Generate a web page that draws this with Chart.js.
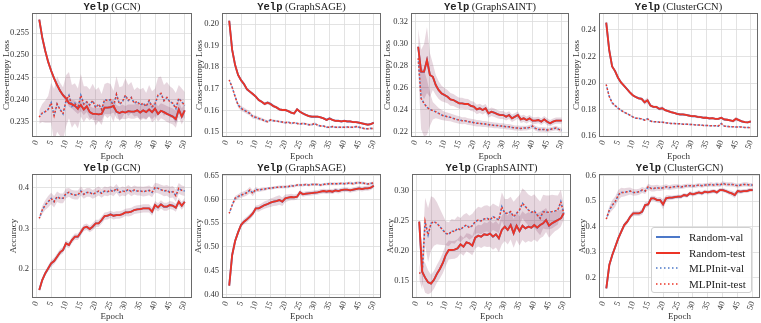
<!DOCTYPE html>
<html>
<head>
<meta charset="utf-8">
<script src="https://cdn.jsdelivr.net/npm/chart.js@4.4.1/dist/chart.umd.min.js"></script>
<style>
  body { margin: 0; background: #fff; }
  #fig { position: relative; width: 761px; height: 323px; overflow: hidden; background: #fff; }
  #fig canvas { position: absolute; }
  #legend {
    position: absolute; left: 651px; top: 227px; width: 101px; height: 66px;
    box-sizing: border-box; padding: 1px 0 0 4px;
    background: rgba(255,255,255,.85); border: 1px solid #d0d0d0; border-radius: 3px;
    font: 11px "Liberation Serif", serif; color: #222;
  }
  #legend .row { height: 15.8px; display: flex; align-items: center; white-space: nowrap; }
  #legend svg { width: 24px; height: 4px; margin-right: 9px; }
</style>
</head>
<body>
<div id="fig">
  <div id="legend">
    <div class="row"><svg><line x1="0" y1="2" x2="24" y2="2" stroke="#4c78c8" stroke-width="2"/></svg>Random-val</div>
    <div class="row"><svg><line x1="0" y1="2" x2="24" y2="2" stroke="#ec3426" stroke-width="2"/></svg>Random-test</div>
    <div class="row"><svg><line x1="0" y1="2" x2="24" y2="2" stroke="#4c78c8" stroke-width="1.5" stroke-dasharray="1.5 2.5"/></svg>MLPInit-val</div>
    <div class="row"><svg><line x1="0" y1="2" x2="24" y2="2" stroke="#ec3426" stroke-width="1.5" stroke-dasharray="1.5 2.5"/></svg>MLPInit-test</div>
  </div>
</div>
<script>
const epochs = Array.from({ length: 50 }, (_, i) => i + 1);
const xTicks = [0, 5, 10, 15, 20, 25, 30, 35, 40, 45, 50];

// ---- loss, GCN
const gcnLossRandom = [.2580,.2540,.2510,.2485,.2465,.2448,.2433,.2420,.2410,.2403,.2392,.2390,.2386,.2380,.2388,.2378,.2385,.2372,.2368,.2368,.2367,.2368,.2382,.2382,.2383,.2386,.2373,.2370,.2373,.2371,.2374,.2373,.2373,.2376,.2371,.2376,.2372,.2378,.2372,.2380,.2368,.2375,.2372,.2368,.2365,.2362,.2356,.2378,.2362,.2376];
const gcnLossMlp = [.2361,.2370,.2373,.2378,.2393,.2364,.2390,.2378,.2368,.2397,.2410,.2385,.2392,.2380,.2410,.2390,.2395,.2388,.2398,.2382,.2390,.2378,.2400,.2398,.2400,.2385,.2412,.2390,.2395,.2410,.2398,.2405,.2392,.2396,.2388,.2392,.2385,.2398,.2384,.2390,.2410,.2414,.2398,.2405,.2395,.2392,.2380,.2403,.2395,.2387];
const gcnLossRandomStd = [.0002,.0002,.0002,.0003,.0003,.0003,.0003,.0004,.0004,.0005,.0008,.001,.0012,.0012,.0014,.0013,.0013,.0014,.0014,.0014,.0015,.0015,.0014,.0015,.0015,.0015,.0015,.0015,.0016,.0015,.0015,.0016,.0016,.0016,.0015,.0016,.0016,.0016,.0016,.0017,.0017,.0017,.0017,.0018,.0018,.0018,.0019,.0018,.0018,.0017];
const gcnLossMlpStd = [.0015,.002,.0025,.003,.0045,.006,.0062,.006,.006,.0058,.0052,.0048,.0045,.0045,.0048,.004,.0035,.0035,.0038,.004,.0038,.0035,.0035,.004,.0035,.0035,.004,.0038,.0035,.0038,.0035,.0035,.003,.0032,.0035,.0035,.003,.0035,.0035,.0035,.004,.0038,.0035,.0035,.0035,.0033,.0035,.003,.003,.003];
const gcnLossTicks = ["0.235", "0.240", "0.245", "0.250", "0.255"];

// ---- loss, GraphSAGE
const sageLossRandom = [.2015,.188,.181,.1764,.174,.1722,.1698,.1687,.1676,.1664,.1648,.164,.163,.1636,.163,.162,.1614,.1605,.1602,.1602,.1597,.159,.1586,.1605,.1594,.1586,.1579,.1574,.1571,.1571,.1571,.1568,.1563,.1556,.1563,.1556,.1552,.1552,.1549,.1552,.1549,.1549,.1546,.1546,.1543,.154,.1537,.1534,.1537,.1543];
const sageLossMlp = [.1741,.1707,.1664,.1625,.161,.1602,.1594,.1586,.1571,.1568,.1563,.1559,.1552,.1548,.1556,.1552,.1551,.1548,.1546,.1543,.1546,.154,.1543,.154,.1537,.154,.1537,.1534,.1534,.154,.1531,.1528,.1528,.1522,.1522,.1525,.1522,.1522,.1522,.1522,.1523,.1522,.1522,.1525,.1522,.1519,.1515,.1515,.1517,.1515];
const sageLossRandomStd = [.0009,.0009,.0008,.0008,.0008,.0008,.0007,.0007,.0007,.0007,.0007,.0007,.0007,.0008,.0008,.0007,.0006,.0006,.0006,.0006,.0006,.0006,.0006,.0007,.0006,.0006,.0005,.0005,.0005,.0005,.0005,.0005,.0005,.0005,.0005,.0005,.0005,.0005,.0005,.0005,.0005,.0005,.0005,.0005,.0005,.0005,.0005,.0005,.0005,.0005];
const sageLossMlpStd = [.0006,.0008,.001,.0011,.0011,.0011,.001,.001,.0009,.0008,.0008,.0007,.0007,.0006,.0006,.0006,.0005,.0005,.0005,.0005,.0005,.0005,.0005,.0005,.0005,.0005,.0005,.0005,.0005,.0005,.0005,.0005,.0005,.0005,.0005,.0005,.0005,.0005,.0005,.0005,.0005,.0005,.0005,.0005,.0005,.0005,.0005,.0005,.0005,.0005];
const sageLossTicks = ["0.15", "0.16", "0.17", "0.18", "0.19", "0.20"];

// ---- loss, GraphSAINT
const saintLossRandom = [.2973,.2747,.2747,.2853,.2717,.2701,.2626,.258,.255,.2535,.252,.2496,.249,.2475,.246,.246,.2454,.2454,.2436,.243,.2405,.2415,.24,.2415,.2369,.2384,.2375,.2363,.2354,.2354,.2339,.2354,.2324,.2339,.2354,.2315,.2324,.2309,.2324,.2303,.2303,.2309,.2294,.2315,.2294,.2279,.2294,.2303,.2303,.2303];
const saintLossMlp = [.2868,.2505,.246,.2424,.2405,.2393,.2384,.2369,.2354,.2345,.2339,.2333,.2324,.2315,.2309,.2303,.2303,.2294,.2291,.2285,.2279,.2279,.2273,.2273,.2267,.2264,.226,.226,.2254,.2254,.2248,.2248,.2242,.2236,.2236,.2233,.2236,.2236,.2242,.2254,.2233,.2224,.2224,.2224,.2218,.2224,.223,.2236,.2224,.2218];
const saintLossRandomStd = [.016,.02,.025,.03,.02,.012,.009,.008,.007,.0065,.006,.0058,.0055,.0052,.005,.005,.0048,.0046,.0045,.0044,.0043,.0042,.0041,.004,.004,.0039,.0038,.0037,.0036,.0036,.0035,.0035,.0034,.0034,.0033,.0033,.0032,.0032,.0031,.0031,.003,.003,.003,.003,.003,.0029,.0029,.0029,.0028,.0028];
const saintLossMlpStd = [.012,.028,.03,.025,.015,.008,.006,.005,.0045,.004,.0038,.0036,.0035,.0034,.0033,.0032,.0031,.003,.003,.003,.0029,.0028,.0028,.0027,.0027,.0026,.0026,.0025,.0025,.0025,.0024,.0024,.0024,.0023,.0023,.0023,.0022,.0022,.0022,.0022,.0022,.0021,.0021,.0021,.0021,.002,.002,.002,.002,.002];
const saintLossTicks = ["0.22", "0.24", "0.26", "0.28", "0.30", "0.32"];

// ---- loss, ClusterGCN
const clusterLossRandom = [.2455,.225,.2125,.209,.204,.2005,.198,.1955,.193,.1908,.1895,.1885,.188,.1855,.187,.183,.182,.182,.1805,.181,.1795,.1788,.178,.1775,.1768,.1763,.1763,.176,.1755,.175,.175,.1745,.1743,.1738,.1738,.1733,.1735,.173,.173,.1738,.1725,.1723,.1718,.1713,.173,.172,.171,.1705,.1703,.171];
const clusterLossMlp = [.1988,.19,.185,.183,.181,.1795,.178,.177,.1758,.1745,.1735,.1733,.173,.172,.173,.1713,.1708,.1708,.1705,.1705,.17,.1698,.1695,.1695,.1693,.1693,.169,.169,.1688,.1688,.1685,.1683,.1683,.168,.168,.1678,.1678,.1678,.1675,.1695,.1675,.1673,.167,.167,.1668,.167,.1668,.1665,.1665,.1663];
const clusterLossRandomStd = [.0015,.0012,.001,.001,.001,.0009,.0009,.0009,.0009,.0009,.0009,.001,.0012,.0018,.002,.0012,.001,.001,.0012,.0015,.001,.0009,.0009,.0009,.0008,.0008,.0008,.0008,.0008,.0008,.0009,.001,.0009,.0008,.0008,.0008,.0008,.0008,.0009,.001,.0009,.0008,.0009,.0012,.0016,.001,.0008,.0008,.0008,.0008];
const clusterLossMlpStd = [.001,.0009,.0009,.0008,.0008,.0008,.0008,.0007,.0007,.0007,.0007,.0007,.0007,.0007,.0008,.0007,.0006,.0006,.0006,.0006,.0006,.0006,.0006,.0006,.0006,.0006,.0006,.0006,.0006,.0006,.0006,.0006,.0006,.0006,.0006,.0006,.0006,.0006,.0006,.0008,.0006,.0006,.0006,.0006,.0006,.0006,.0006,.0006,.0006,.0006];
const clusterLossTicks = ["0.16", "0.18", "0.20", "0.22", "0.24"];

// ---- accuracy, GCN
const gcnAccRandom = [.1484,.173,.1893,.2016,.2139,.2197,.2303,.241,.2467,.2631,.259,.2713,.2795,.2795,.2902,.3016,.3041,.2984,.3041,.3123,.3123,.3205,.3303,.3311,.3344,.3311,.3328,.3328,.3352,.3393,.3393,.341,.3451,.3467,.3475,.3492,.3492,.3492,.341,.3574,.3516,.359,.3533,.3533,.3574,.3557,.3508,.3656,.3557,.3656];
const gcnAccMlp = [.3246,.3451,.3574,.3656,.3738,.3656,.3779,.3738,.3738,.3861,.3885,.3836,.382,.382,.3918,.3836,.3885,.3885,.3836,.3877,.3918,.3861,.3918,.3902,.3934,.3902,.3984,.3885,.3918,.3902,.3959,.3902,.3943,.3918,.3918,.3902,.3918,.3934,.3885,.4,.3984,.3951,.3918,.3934,.3885,.3902,.3803,.3984,.3934,.3918];
const gcnAccRandomStd = [.004,.005,.006,.007,.008,.008,.008,.008,.008,.008,.008,.008,.008,.008,.008,.008,.008,.008,.009,.009,.009,.009,.009,.009,.009,.009,.009,.009,.009,.009,.01,.01,.01,.01,.01,.01,.01,.01,.01,.01,.01,.01,.01,.01,.01,.01,.01,.01,.01,.01];
const gcnAccMlpStd = [.005,.01,.012,.014,.014,.014,.013,.012,.012,.012,.011,.011,.011,.011,.011,.011,.011,.011,.011,.011,.011,.011,.011,.011,.011,.011,.011,.011,.011,.011,.011,.011,.011,.011,.011,.012,.012,.012,.012,.012,.012,.012,.013,.013,.014,.014,.015,.013,.012,.012];
const gcnAccTicks = ["0.2", "0.3", "0.4"];

// ---- accuracy, GraphSAGE
const sageAccRandom = [.4183,.4829,.5124,.5306,.5461,.5531,.558,.5636,.5706,.5812,.5812,.5847,.5882,.5903,.5931,.5952,.5966,.5987,.5952,.6022,.6037,.6051,.6044,.6058,.6149,.6107,.6121,.6128,.6135,.6142,.6149,.6163,.6177,.6163,.6177,.6163,.6191,.6177,.6198,.6205,.6205,.6191,.6205,.6219,.6233,.6219,.6233,.6233,.6247,.6289];
const sageAccMlp = [.5706,.5882,.6022,.6058,.6093,.6114,.6142,.6198,.6128,.6212,.6198,.6212,.6219,.6233,.6233,.6247,.6254,.6261,.6261,.6268,.6268,.6289,.6282,.6303,.6303,.6303,.6317,.6303,.6317,.6317,.6317,.6303,.6317,.6324,.6331,.6331,.6331,.6331,.6338,.6331,.6338,.6346,.6331,.6346,.6353,.6346,.6338,.6324,.6338,.6346];
const sageAccRandomStd = [.004,.005,.005,.005,.005,.006,.006,.006,.006,.006,.007,.007,.008,.008,.009,.009,.01,.01,.009,.008,.007,.007,.006,.006,.005,.005,.005,.005,.005,.005,.005,.005,.005,.005,.005,.005,.005,.005,.005,.005,.005,.005,.005,.005,.005,.005,.005,.005,.005,.005];
const sageAccMlpStd = [.003,.004,.005,.005,.006,.006,.006,.007,.006,.005,.004,.004,.004,.003,.003,.003,.003,.003,.003,.003,.003,.003,.003,.003,.003,.003,.003,.003,.003,.003,.003,.003,.003,.003,.003,.003,.003,.003,.003,.003,.003,.003,.003,.003,.003,.003,.003,.003,.003,.003];
const sageAccTicks = ["0.40", "0.45", "0.50", "0.55", "0.60", "0.65"];

// ---- accuracy, GraphSAINT
const saintAccRandom = [.2489,.1656,.1556,.1478,.1456,.152,.162,.17,.18,.1933,.2017,.2017,.2022,.2044,.2111,.2072,.2144,.2128,.2089,.2222,.2256,.2239,.2278,.2267,.2289,.2239,.2278,.2211,.235,.2406,.235,.2433,.2294,.2422,.2333,.2422,.2378,.2406,.2389,.2433,.2389,.2433,.2461,.2517,.2422,.2461,.2489,.2517,.2544,.2628];
const saintAccMlp = [.1628,.1656,.2489,.2267,.2461,.2489,.2461,.2406,.235,.2294,.2278,.2333,.2322,.2378,.235,.2406,.2433,.2389,.2422,.2489,.2517,.25,.2533,.2544,.2517,.2572,.2544,.2517,.2739,.2628,.2628,.2656,.2572,.2628,.2683,.2794,.2739,.2683,.2644,.2667,.26,.2544,.2656,.2644,.2644,.2656,.2667,.2683,.2822,.2628];
const saintAccRandomStd = [.005,.02,.025,.02,.015,.015,.015,.016,.017,.018,.016,.015,.015,.015,.015,.015,.015,.016,.016,.018,.018,.019,.02,.02,.022,.022,.022,.023,.024,.024,.024,.024,.024,.024,.024,.024,.024,.024,.024,.024,.024,.022,.022,.02,.02,.018,.016,.016,.014,.01];
const saintAccMlpStd = [.01,.03,.04,.045,.045,.04,.035,.03,.025,.02,.02,.02,.02,.02,.02,.02,.02,.02,.02,.02,.022,.022,.022,.022,.022,.022,.022,.022,.024,.024,.024,.025,.025,.025,.025,.025,.026,.026,.027,.028,.028,.028,.028,.028,.028,.028,.026,.024,.02,.015];
const saintAccTicks = ["0.15", "0.20", "0.25", "0.30"];

// ---- accuracy, ClusterGCN
const clusterAccRandom = [.1582,.2497,.2889,.3216,.3542,.3804,.4065,.4196,.4392,.4523,.4523,.4523,.4588,.485,.4876,.5111,.5111,.5046,.5046,.4876,.5111,.5137,.5137,.5163,.5176,.5176,.5242,.5216,.5307,.5268,.5307,.5346,.5307,.5373,.5346,.5373,.5399,.5346,.5438,.5438,.5399,.5346,.5307,.5242,.5399,.5373,.5399,.5399,.5438,.5438];
const clusterAccMlp = [.4301,.4654,.485,.498,.5242,.5346,.5346,.5373,.5399,.5346,.5346,.5373,.5438,.5399,.5569,.5503,.5503,.5529,.5503,.5529,.5569,.5529,.5556,.5569,.5582,.5556,.5582,.5608,.5608,.5595,.5608,.5634,.5608,.5634,.5634,.566,.5634,.566,.5634,.5699,.566,.566,.566,.5634,.5608,.5634,.566,.566,.5634,.5634];
const clusterAccRandomStd = [.004,.008,.01,.01,.01,.01,.01,.01,.01,.01,.01,.01,.012,.012,.01,.01,.01,.01,.012,.02,.012,.01,.008,.008,.008,.008,.008,.008,.008,.008,.008,.008,.008,.008,.008,.008,.008,.008,.008,.008,.008,.008,.01,.012,.01,.008,.008,.008,.008,.008];
const clusterAccMlpStd = [.008,.015,.02,.02,.02,.018,.016,.015,.014,.013,.012,.012,.012,.012,.012,.012,.012,.012,.01,.01,.01,.01,.01,.01,.008,.008,.008,.008,.008,.008,.008,.008,.008,.008,.008,.008,.008,.008,.008,.008,.008,.008,.008,.008,.008,.008,.008,.008,.008,.008];
const clusterAccTicks = ["0.2", "0.3", "0.4", "0.5", "0.6"];

const BLUE = "#4c78c8", RED = "#ec3426", BAND = "rgba(125,45,85,0.19)";
const SERIF = "'Liberation Serif', 'Times New Roman', serif";

// val and test curves sit on top of each other in the figure, so val reuses the test values
const panels = [
  { model: "GCN",        yTitle: "Cross-entropy Loss", rand: gcnLossRandom, randStd: gcnLossRandomStd, mlp: gcnLossMlp, mlpStd: gcnLossMlpStd, ticks: gcnLossTicks, min: 0.2316, max: 0.2595 },
  { model: "GraphSAGE",  yTitle: "Cross-entropy Loss", rand: sageLossRandom, randStd: sageLossRandomStd, mlp: sageLossMlp, mlpStd: sageLossMlpStd, ticks: sageLossTicks, min: 0.1477, max: 0.2051 },
  { model: "GraphSAINT", yTitle: "Cross-entropy Loss", rand: saintLossRandom, randStd: saintLossRandomStd, mlp: saintLossMlp, mlpStd: saintLossMlpStd, ticks: saintLossTicks, min: 0.2155, max: 0.3279 },
  { model: "ClusterGCN", yTitle: "Cross-entropy Loss", rand: clusterLossRandom, randStd: clusterLossRandomStd, mlp: clusterLossMlp, mlpStd: clusterLossMlpStd, ticks: clusterLossTicks, min: 0.1593, max: 0.2528 },
  { model: "GCN",        yTitle: "Accuracy", rand: gcnAccRandom, randStd: gcnAccRandomStd, mlp: gcnAccMlp, mlpStd: gcnAccMlpStd, ticks: gcnAccTicks, min: 0.1288, max: 0.4337 },
  { model: "GraphSAGE",  yTitle: "Accuracy", rand: sageAccRandom, randStd: sageAccRandomStd, mlp: sageAccMlp, mlpStd: sageAccMlpStd, ticks: sageAccTicks, min: 0.3922, max: 0.6536 },
  { model: "GraphSAINT", yTitle: "Accuracy", rand: saintAccRandom, randStd: saintAccRandomStd, mlp: saintAccMlp, mlpStd: saintAccMlpStd, ticks: saintAccTicks, min: 0.1217, max: 0.3283 },
  { model: "ClusterGCN", yTitle: "Accuracy", rand: clusterAccRandom, randStd: clusterAccRandomStd, mlp: clusterAccMlp, mlpStd: clusterAccMlpStd, ticks: clusterAccTicks, min: 0.1204, max: 0.6067 },
];

// canvas placement: left, top, y-axis width, plot width, x-axis height
const boxes = [
  [1, 0, 31, 160, 25], [194, 0, 28, 159, 25], [382, 0, 29, 158, 25], [571, 0, 28, 159, 25],
  [8, 161, 24, 160, 24], [193, 161, 29, 159, 24], [385, 161, 27, 159, 24], [577, 161, 22, 161, 24],
];
const PAD_TOP = 13, PLOT_H = 124;

const pts = (arr, off, sign) => arr.map((v, i) => ({ x: epochs[i], y: v + (off ? sign * off[i] : 0) }));

const frame = {
  id: "frame",
  afterDraw(chart) {
    const { ctx, chartArea: a } = chart;
    ctx.save();
    ctx.strokeStyle = "#6a6a6a";
    ctx.lineWidth = 1;
    ctx.strokeRect(Math.round(a.left) + 0.5, Math.round(a.top) + 0.5, Math.round(a.right - a.left) - 1, Math.round(a.bottom - a.top) - 1);
    ctx.restore();
  },
};

const mixTitle = {
  id: "mixTitle",
  afterDraw(chart, args, opts) {
    const { ctx, chartArea: a } = chart;
    const mono = "bold 10.5px 'Liberation Mono', 'DejaVu Sans Mono', monospace";
    const serif = "10.5px " + SERIF;
    const rest = " (" + opts.model + ")";
    ctx.save();
    ctx.font = mono; const w1 = ctx.measureText("Yelp").width;
    ctx.font = serif; const w2 = ctx.measureText(rest).width;
    const x = (a.left + a.right) / 2 - (w1 + w2) / 2;
    const y = a.top - 3.5;
    ctx.fillStyle = "#222";
    ctx.textBaseline = "alphabetic";
    ctx.textAlign = "left";
    ctx.font = mono; ctx.fillText("Yelp", x, y);
    ctx.font = serif; ctx.fillText(rest, x + w1, y);
    ctx.restore();
  },
};

const fig = document.getElementById("fig");
const legend = document.getElementById("legend");

panels.forEach((p, k) => {
  const [left, top, yW, plotW, xH] = boxes[k];
  const canvas = document.createElement("canvas");
  canvas.width = yW + plotW + 2;
  canvas.height = PAD_TOP + PLOT_H + xH;
  canvas.style.left = left + "px";
  canvas.style.top = top + "px";
  fig.insertBefore(canvas, legend);

  const line = (label, data, color, width, dash, order, dashOff) => ({
    label, data, borderColor: color, borderWidth: width, borderDash: dash, borderDashOffset: dashOff || 0,
    pointRadius: 0, fill: false, tension: 0, order,
  });
  const band = (data, fill) => ({
    data, borderWidth: 0, pointRadius: 0, backgroundColor: BAND, fill, order: 10,
  });

  new Chart(canvas, {
    type: "line",
    data: {
      datasets: [
        band(pts(p.rand, p.randStd, -1), false),
        band(pts(p.rand, p.randStd, 1), 0),
        band(pts(p.mlp, p.mlpStd, -1), false),
        band(pts(p.mlp, p.mlpStd, 1), 2),
        line("Random-val", pts(p.rand), BLUE, 1.9, [], 5),
        line("MLPInit-val", pts(p.mlp), BLUE, 1.5, [1.5, 2.5], 4, 1.1),
        line("MLPInit-test", pts(p.mlp), RED, 1.5, [1.5, 2.5], 3),
        line("Random-test", pts(p.rand), RED, 1.8, [], 1),
      ],
    },
    options: {
      responsive: false,
      animation: false,
      events: [],
      layout: { padding: { top: PAD_TOP, right: 2, left: 0, bottom: 0 } },
      plugins: { legend: { display: false }, tooltip: { enabled: false }, mixTitle: { model: p.model } },
      scales: {
        x: {
          type: "linear", min: -1.45, max: 52.45,
          afterBuildTicks: (s) => { s.ticks = xTicks.map((v) => ({ value: v })); },
          afterFit: (s) => { s.height = xH; s.paddingLeft = 0; s.paddingRight = 0; },
          ticks: { autoSkip: false, minRotation: 70, maxRotation: 70, padding: 2, color: "#333",
                   font: { family: SERIF, size: 8.5 }, callback: (v) => String(v) },
          grid: { color: "#dcdcdc", lineWidth: 0.8, drawTicks: false },
          border: { display: false },
          title: { display: true, text: "Epoch", color: "#333", font: { family: SERIF, size: 9 }, padding: 0 },
        },
        y: {
          min: p.min, max: p.max,
          afterBuildTicks: (s) => { s.ticks = p.ticks.map((t) => ({ value: parseFloat(t) })); },
          afterFit: (s) => { s.width = yW; s.paddingTop = 0; s.paddingBottom = 0; },
          ticks: { autoSkip: false, padding: 3, color: "#333", font: { family: SERIF, size: 8.5 },
                   callback: (v, i) => p.ticks[i] },
          grid: { color: "#dcdcdc", lineWidth: 0.8, drawTicks: false },
          border: { display: false },
          title: { display: true, text: p.yTitle, color: "#333", font: { family: SERIF, size: 9 }, padding: 0 },
        },
      },
    },
    plugins: [frame, mixTitle],
  });
});
</script>
</body>
</html>
